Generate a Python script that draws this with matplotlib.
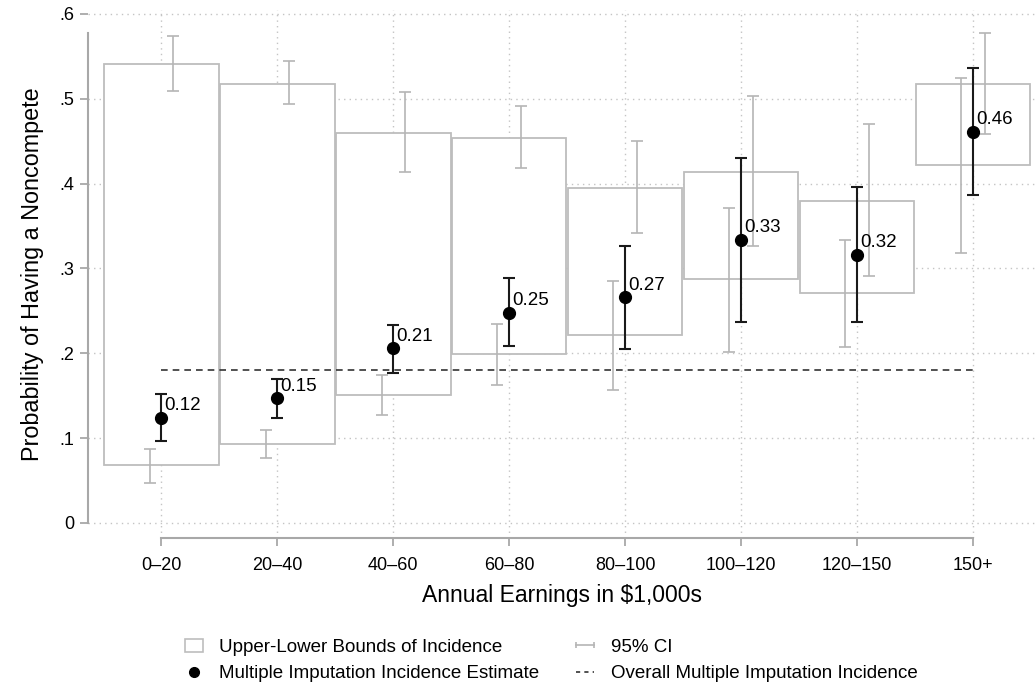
"""Noncompete incidence by annual earnings bracket: bounds, MI estimates and CIs."""

import matplotlib

matplotlib.use("Agg")
import matplotlib.pyplot as plt
from matplotlib.legend_handler import HandlerLine2D
from matplotlib.lines import Line2D
from matplotlib.patches import Rectangle

plt.rcParams["font.family"] = ["Liberation Sans", "DejaVu Sans"]

# earnings brackets
brackets = ["0\u201320", "20\u201340", "40\u201360", "60\u201380",
            "80\u2013100", "100\u2013120", "120\u2013150", "150+"]

# upper / lower bounds of incidence
bound_hi = [0.541, 0.518, 0.460, 0.454, 0.395, 0.414, 0.380, 0.518]
bound_lo = [0.068, 0.093, 0.151, 0.199, 0.221, 0.287, 0.271, 0.422]

# 95% CI around the upper bound
hi_ci_top = [0.574, 0.544, 0.508, 0.492, 0.450, 0.503, 0.470, 0.578]
hi_ci_bot = [0.509, 0.494, 0.414, 0.418, 0.342, 0.327, 0.291, 0.458]

# 95% CI around the lower bound
lo_ci_top = [0.087, 0.110, 0.174, 0.234, 0.285, 0.371, 0.334, 0.524]
lo_ci_bot = [0.047, 0.076, 0.127, 0.162, 0.157, 0.201, 0.207, 0.318]

# multiple imputation estimates and their 95% CI
mi_est = [0.124, 0.147, 0.206, 0.248, 0.266, 0.334, 0.316, 0.461]
mi_ci_top = [0.152, 0.170, 0.233, 0.289, 0.327, 0.430, 0.396, 0.536]
mi_ci_bot = [0.096, 0.124, 0.177, 0.208, 0.205, 0.237, 0.237, 0.387]

overall_mi = 0.180

box_color = "#bdbdbd"
ci_color = "#b5b5b5"
grid_color = "#c4c4c4"
axis_color = "#a8a8a8"

fig = plt.figure(figsize=(10.36, 6.87), dpi=100)
ax = fig.add_axes([0.085, 0.2175, 0.915, 0.768])

x = list(range(len(brackets)))
box_w = 0.99
ci_off = 0.1

# grid
for yv in [0, 0.1, 0.2, 0.3, 0.4, 0.5, 0.6]:
    ax.axhline(yv, color=grid_color, lw=1.0, ls=(0, (1, 3)), zorder=0)
for xv in x:
    ax.axvline(xv, color=grid_color, lw=1.0, ls=(0, (1, 3)), zorder=0)

# bounds boxes
for xi, lo, hi in zip(x, bound_lo, bound_hi):
    ax.add_patch(Rectangle((xi - box_w / 2, lo), box_w, hi - lo,
                           facecolor="white", edgecolor=box_color,
                           lw=1.3, zorder=1))

# gray CIs of the bounds
ax.errorbar([xi + ci_off for xi in x],
            [(t + b) / 2 for t, b in zip(hi_ci_top, hi_ci_bot)],
            yerr=[[(t - b) / 2 for t, b in zip(hi_ci_top, hi_ci_bot)]] * 2,
            fmt="none", ecolor=ci_color, elinewidth=1.2, capsize=4,
            capthick=1.2, zorder=2)
ax.errorbar([xi - ci_off for xi in x],
            [(t + b) / 2 for t, b in zip(lo_ci_top, lo_ci_bot)],
            yerr=[[(t - b) / 2 for t, b in zip(lo_ci_top, lo_ci_bot)]] * 2,
            fmt="none", ecolor=ci_color, elinewidth=1.2, capsize=4,
            capthick=1.2, zorder=2)

# overall MI incidence
ax.plot([x[0], x[-1]], [overall_mi, overall_mi], color="#333333",
        lw=1.2, ls=(0, (4, 3)), zorder=3)

# MI estimates with CI
ax.errorbar(x, mi_est,
            yerr=[[m - b for m, b in zip(mi_est, mi_ci_bot)],
                  [t - m for m, t in zip(mi_est, mi_ci_top)]],
            fmt="none", ecolor="#1a1a1a", elinewidth=1.5, capsize=4,
            capthick=1.5, zorder=4)
ax.plot(x, mi_est, "o", color="black", ms=8.5, zorder=5)
for xi, v in zip(x, mi_est):
    ax.text(xi + 0.03, v + 0.014, f"{v:.2f}", fontsize=13.5,
            ha="left", va="center", zorder=6)

ax.set_xlim(-0.63, 7.543)
ax.set_ylim(-0.0173, 0.6047)

ax.set_xticks(x)
ax.set_xticklabels(brackets, fontsize=13)
ax.set_yticks([0, 0.1, 0.2, 0.3, 0.4, 0.5, 0.6])
ax.set_yticklabels(["0", ".1", ".2", ".3", ".4", ".5", ".6"], fontsize=13)
ax.tick_params(axis="both", colors=axis_color, labelcolor="black",
               length=6, width=1.3)
ax.tick_params(axis="x", pad=8)
ax.tick_params(axis="y", pad=4)

for side in ["top", "right"]:
    ax.spines[side].set_visible(False)
for side in ["left", "bottom"]:
    ax.spines[side].set_color(axis_color)
    ax.spines[side].set_linewidth(1.5)
ax.spines["bottom"].set_bounds(x[0], x[-1])
ax.spines["left"].set_bounds(0, max(hi_ci_top))

ax.set_xlabel("Annual Earnings in $1,000s", fontsize=16.5, labelpad=7)
ax.set_ylabel("Probability of Having a Noncompete", fontsize=16.8, labelpad=11)

# legend
h_box = Rectangle((0, 0), 1, 1, facecolor="white", edgecolor=box_color, lw=1.2)
h_dot = Line2D([], [], ls="none", marker="o", color="black", ms=7)
h_ci = Line2D([], [], color=ci_color, lw=1.2, marker="|", ms=5, mew=1.2)
h_dash = Line2D([], [], color="#333333", lw=1.2, ls=(0, (2.5, 2.5)))
fig.legend([h_box, h_dot, h_ci, h_dash],
           ["Upper-Lower Bounds of Incidence",
            "Multiple Imputation Incidence Estimate",
            "95% CI", "Overall Multiple Imputation Incidence"],
           handler_map={h_ci: HandlerLine2D(numpoints=2, marker_pad=0)},
           ncol=2, frameon=False, fontsize=13.5, loc="lower left",
           bbox_to_anchor=(0.162, -0.018), handlelength=0.95,
           handletextpad=0.9, columnspacing=1.95, labelspacing=0.5)

fig.savefig("out.png", dpi=100)
